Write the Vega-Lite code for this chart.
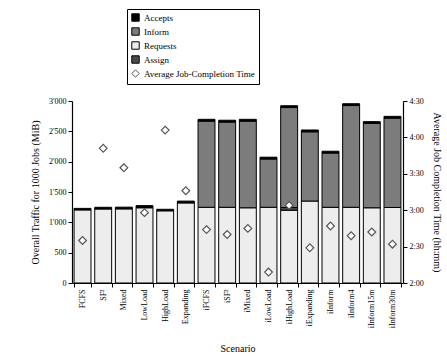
{
  "$schema": "https://vega.github.io/schema/vega-lite/v6.json",
  "width": 331,
  "height": 182,
  "autosize": {"type": "none"},
  "padding": {"left": 72, "top": 101, "right": 44, "bottom": 77},
  "background": "white",
  "config": {
    "view": {"stroke": null},
    "font": "Liberation Serif",
    "axis": {"labelFont": "Liberation Serif", "titleFont": "Liberation Serif", "labelFontSize": 8, "titleFontSize": 10, "titleFontWeight": "normal", "domainColor": "black", "tickColor": "black", "labelColor": "black", "titleColor": "black", "grid": false, "tickSize": 4, "domainWidth": 1.2}
  },
  "datasets": {
    "traffic": [
      {"scenario": "FCFS", "type": "Requests", "ord": 1, "mb": 1205},
      {"scenario": "FCFS", "type": "Accepts", "ord": 4, "mb": 25},
      {"scenario": "SF²", "type": "Requests", "ord": 1, "mb": 1220},
      {"scenario": "SF²", "type": "Accepts", "ord": 4, "mb": 28},
      {"scenario": "Mixed", "type": "Requests", "ord": 1, "mb": 1222},
      {"scenario": "Mixed", "type": "Accepts", "ord": 4, "mb": 28},
      {"scenario": "LowLoad", "type": "Requests", "ord": 1, "mb": 1240},
      {"scenario": "LowLoad", "type": "Accepts", "ord": 4, "mb": 35},
      {"scenario": "HighLoad", "type": "Requests", "ord": 1, "mb": 1190},
      {"scenario": "HighLoad", "type": "Accepts", "ord": 4, "mb": 25},
      {"scenario": "Expanding", "type": "Requests", "ord": 1, "mb": 1320},
      {"scenario": "Expanding", "type": "Accepts", "ord": 4, "mb": 30},
      {"scenario": "iFCFS", "type": "Requests", "ord": 1, "mb": 1248},
      {"scenario": "iFCFS", "type": "Inform", "ord": 3, "mb": 1420},
      {"scenario": "iFCFS", "type": "Accepts", "ord": 4, "mb": 30},
      {"scenario": "iSF²", "type": "Requests", "ord": 1, "mb": 1248},
      {"scenario": "iSF²", "type": "Inform", "ord": 3, "mb": 1405},
      {"scenario": "iSF²", "type": "Accepts", "ord": 4, "mb": 30},
      {"scenario": "iMixed", "type": "Requests", "ord": 1, "mb": 1240},
      {"scenario": "iMixed", "type": "Inform", "ord": 3, "mb": 1428},
      {"scenario": "iMixed", "type": "Accepts", "ord": 4, "mb": 30},
      {"scenario": "iLowLoad", "type": "Requests", "ord": 1, "mb": 1248},
      {"scenario": "iLowLoad", "type": "Inform", "ord": 3, "mb": 796},
      {"scenario": "iLowLoad", "type": "Accepts", "ord": 4, "mb": 30},
      {"scenario": "iHighLoad", "type": "Requests", "ord": 1, "mb": 1200},
      {"scenario": "iHighLoad", "type": "Assign", "ord": 2, "mb": 45},
      {"scenario": "iHighLoad", "type": "Inform", "ord": 3, "mb": 1647},
      {"scenario": "iHighLoad", "type": "Accepts", "ord": 4, "mb": 30},
      {"scenario": "iExpanding", "type": "Requests", "ord": 1, "mb": 1351},
      {"scenario": "iExpanding", "type": "Inform", "ord": 3, "mb": 1141},
      {"scenario": "iExpanding", "type": "Accepts", "ord": 4, "mb": 30},
      {"scenario": "iInform", "type": "Requests", "ord": 1, "mb": 1248},
      {"scenario": "iInform", "type": "Inform", "ord": 3, "mb": 894},
      {"scenario": "iInform", "type": "Accepts", "ord": 4, "mb": 30},
      {"scenario": "iInform4", "type": "Requests", "ord": 1, "mb": 1248},
      {"scenario": "iInform4", "type": "Inform", "ord": 3, "mb": 1677},
      {"scenario": "iInform4", "type": "Accepts", "ord": 4, "mb": 30},
      {"scenario": "iInform15m", "type": "Requests", "ord": 1, "mb": 1240},
      {"scenario": "iInform15m", "type": "Inform", "ord": 3, "mb": 1390},
      {"scenario": "iInform15m", "type": "Accepts", "ord": 4, "mb": 30},
      {"scenario": "iInform30m", "type": "Requests", "ord": 1, "mb": 1245},
      {"scenario": "iInform30m", "type": "Inform", "ord": 3, "mb": 1472},
      {"scenario": "iInform30m", "type": "Accepts", "ord": 4, "mb": 30}
    ],
    "times": [
      {"scenario": "FCFS", "minutes": 155},
      {"scenario": "SF²", "minutes": 231},
      {"scenario": "Mixed", "minutes": 215},
      {"scenario": "LowLoad", "minutes": 178},
      {"scenario": "HighLoad", "minutes": 246},
      {"scenario": "Expanding", "minutes": 196},
      {"scenario": "iFCFS", "minutes": 164},
      {"scenario": "iSF²", "minutes": 160},
      {"scenario": "iMixed", "minutes": 165},
      {"scenario": "iLowLoad", "minutes": 129},
      {"scenario": "iHighLoad", "minutes": 184},
      {"scenario": "iExpanding", "minutes": 149},
      {"scenario": "iInform", "minutes": 167},
      {"scenario": "iInform4", "minutes": 159},
      {"scenario": "iInform15m", "minutes": 162},
      {"scenario": "iInform30m", "minutes": 152}
    ]
  },
  "encoding": {
    "x": {
      "field": "scenario", "type": "nominal", "title": "Scenario",
      "scale": {"domain": ["FCFS", "SF²", "Mixed", "LowLoad", "HighLoad", "Expanding", "iFCFS", "iSF²", "iMixed", "iLowLoad", "iHighLoad", "iExpanding", "iInform", "iInform4", "iInform15m", "iInform30m"], "paddingInner": 0.18, "paddingOuter": 0.1},
      "axis": {"labelAngle": -90, "tickBand": "extent", "titlePadding": 16}
    }
  },
  "layer": [
    {
      "data": {"name": "traffic"},
      "mark": {"type": "bar", "stroke": "black", "strokeWidth": 1},
      "encoding": {
        "y": {"field": "mb", "type": "quantitative", "stack": "zero", "title": "Overall Traffic for 1000 Jobs (MiB)",
          "scale": {"domain": [0, 3000], "nice": false},
          "axis": {"values": [0, 500, 1000, 1500, 2000, 2500, 3000], "labelExpr": "replace(format(datum.value, ','), ',', \"'\")", "titlePadding": 8}},
        "order": {"field": "ord", "type": "quantitative"},
        "fill": {
          "field": "type", "type": "nominal",
          "scale": {"domain": ["Accepts", "Inform", "Requests", "Assign", "Average Job-Completion Time"], "range": ["#000000", "#7c7c7c", "#ededed", "#4a4a4a", "#ffffff"]},
          "legend": {
            "title": null, "orient": "none", "legendX": 55, "legendY": -92, "direction": "vertical",
            "strokeColor": "black", "padding": 4, "fillColor": "white",
            "labelFont": "Liberation Serif", "labelFontSize": 9, "labelColor": "black",
            "symbolSize": 55, "symbolStrokeColor": "black", "symbolStrokeWidth": 1, "rowPadding": 1,
            "encode": {"symbols": {"update": {"shape": {"signal": "datum.value === 'Average Job-Completion Time' ? 'diamond' : 'square'"}, "stroke": {"signal": "datum.value === 'Average Job-Completion Time' ? '#555' : 'black'"}}}}
          }
        }
      }
    },
    {
      "data": {"name": "times"},
      "mark": {"type": "point", "shape": "diamond", "filled": true, "stroke": "#555", "strokeWidth": 1.2, "size": 60, "opacity": 1},
      "encoding": {
        "y": {"field": "minutes", "type": "quantitative", "title": "Average Job Completion Time (hh:mm)",
          "scale": {"domain": [120, 270], "nice": false},
          "axis": {"orient": "right", "values": [120, 150, 180, 210, 240, 270], "labelExpr": "floor(datum.value/60) + ':' + (datum.value % 60 < 10 ? '0' : '') + (datum.value % 60)", "titlePadding": 8}},
        "fill": {"datum": "Average Job-Completion Time", "type": "nominal"}
      }
    }
  ],
  "resolve": {"scale": {"y": "independent"}}
}
